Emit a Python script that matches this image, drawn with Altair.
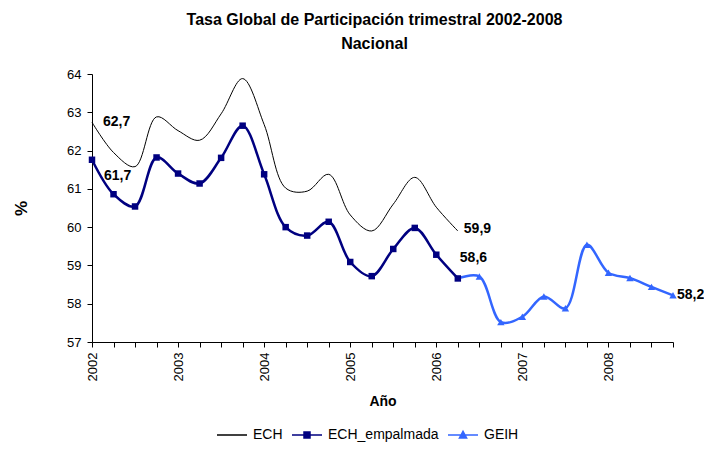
import altair as alt
import pandas as pd

# ---------------- data ----------------
quarters = [2002.0, 2002.25, 2002.5, 2002.75, 2003.0, 2003.25, 2003.5, 2003.75,
            2004.0, 2004.25, 2004.5, 2004.75, 2005.0, 2005.25, 2005.5, 2005.75,
            2006.0, 2006.25, 2006.5, 2006.75, 2007.0, 2007.25, 2007.5, 2007.75,
            2008.0, 2008.25, 2008.5, 2008.75]

ech_t = quarters[:18]
ech = [62.74, 61.95, 61.58, 62.88, 62.52, 62.27, 62.96, 63.88, 62.68, 61.02,
       60.94, 61.38, 60.32, 59.90, 60.60, 61.30, 60.52, 59.90]

emp_t = quarters[:18]
empalmada = [61.76, 60.86, 60.54, 61.82, 61.40, 61.14, 61.81, 62.65, 61.38, 60.00,
             59.78, 60.14, 59.09, 58.72, 59.43, 59.98, 59.28, 58.66]

geih_t = quarters[17:]
geih = [58.66, 58.71, 57.52, 57.66, 58.19, 57.88, 59.54, 58.81, 58.67, 58.44, 58.22]

series = ["ECH", "ECH_empalmada", "GEIH"]
series_colors = ["#000000", "#000080", "#3366FF"]
legend_paths = [
    "M-1,0L1,0",
    "M-1,0L1,0M-0.2,-0.2L0.2,-0.2L0.2,0.2L-0.2,0.2Z",
    "M-1,0L1,0M-0.24,0.2L0,-0.24L0.24,0.2Z",
]

labels = ["62,7", "61,7", "59,9", "58,6", "58,2"]
label_t = [2002.0, 2002.0, 2006.25, 2006.25, 2008.75]
label_v = [62.74, 61.76, 59.90, 58.66, 58.22]
label_dx = [11, 12, 6, 2, 4]
label_dy = [0, 16, -2, -20, 0]

FONT = "Liberation Sans"

df = pd.concat([
    pd.DataFrame({"t": ech_t, "v": ech, "serie": "ECH"}),
    pd.DataFrame({"t": emp_t, "v": empalmada, "serie": "ECH_empalmada"}),
    pd.DataFrame({"t": geih_t, "v": geih, "serie": "GEIH"}),
], ignore_index=True)

lab_df = pd.DataFrame({"t": label_t, "v": label_v, "label": labels})
leg_df = pd.DataFrame({"serie": series})

xscale = alt.Scale(domain=[2002, 2008.75], nice=False, zero=False)
yscale = alt.Scale(domain=[57, 64], nice=False, zero=False)

axis_common = dict(grid=False, domainColor="#000000", tickColor="#000000",
                   labelColor="#000000", titleColor="#000000", labelFont=FONT,
                   titleFont=FONT, labelFontSize=13, domainWidth=1, tickWidth=1,
                   labelOverlap=False)

x_enc = alt.X("t:Q", scale=xscale, axis=alt.Axis(
    title="Año", values=quarters,
    labelExpr="datum.value % 1 === 0 ? '' + datum.value : ''",
    labelAngle=-90, labelPadding=5, tickSize=5,
    titlePadding=14, titleFontSize=14, titleFontWeight="bold", **axis_common))
y_enc = alt.Y("v:Q", scale=yscale, axis=alt.Axis(
    title="%", values=list(range(57, 65)), tickSize=5, labelPadding=6,
    titlePadding=36, titleFontSize=17, titleFontWeight="bold", **axis_common))

base = alt.Chart(df).encode(x=x_enc, y=y_enc)

ech_line = base.transform_filter(alt.datum.serie == "ECH").mark_line(
    color="#000000", strokeWidth=1, interpolate="catmull-rom")
geih_line = base.transform_filter(alt.datum.serie == "GEIH").mark_line(
    color="#3366FF", strokeWidth=2.5, interpolate="catmull-rom")
emp_line = base.transform_filter(alt.datum.serie == "ECH_empalmada").mark_line(
    color="#000080", strokeWidth=2.5, interpolate="catmull-rom")
geih_pts = base.transform_filter(
    (alt.datum.serie == "GEIH") & (alt.datum.t > 2006.3)).mark_point(
    shape="triangle-up", filled=True, size=55, color="#3366FF", opacity=1)
emp_pts = base.transform_filter(alt.datum.serie == "ECH_empalmada").mark_point(
    shape="square", filled=True, size=42, color="#000080", opacity=1)

text_layers = []
for i in range(len(labels)):
    text_layers.append(
        alt.Chart(lab_df.iloc[[i]]).mark_text(
            align="left", baseline="middle", dx=label_dx[i], dy=label_dy[i],
            font=FONT, fontSize=14, fontWeight="bold", color="#000000"
        ).encode(x=x_enc, y=y_enc, text="label:N")
    )

leg = alt.Legend(title=None, orient="none", legendX=124, legendY=345,
                 direction="horizontal", symbolSize=900, labelFont=FONT,
                 labelFontSize=14, labelColor="#000000", labelOffset=5,
                 columnPadding=6, symbolStrokeWidth=1.5)

legend_layer = alt.Chart(leg_df).mark_point(filled=True, size=0, strokeWidth=1.5, opacity=1).encode(
    fill=alt.Fill("serie:N", scale=alt.Scale(domain=series, range=series_colors), legend=leg),
    stroke=alt.Stroke("serie:N", scale=alt.Scale(domain=series, range=series_colors), legend=leg),
    shape=alt.Shape("serie:N", scale=alt.Scale(domain=series, range=legend_paths), legend=leg),
)

chart = alt.layer(
    ech_line, geih_line, emp_line, geih_pts, emp_pts, *text_layers, legend_layer
).properties(
    width=581, height=268,
    autosize=alt.AutoSizeParams(type="none"),
    padding={"left": 84, "top": 66, "right": 31, "bottom": 100},
    background="#ffffff",
    title=alt.TitleParams(
        ["Tasa Global de Participación trimestral 2002-2008", "Nacional"],
        font=FONT, fontSize=16, fontWeight="bold", anchor="middle",
        frame="group", dx=-8, offset=16, lineHeight=24, color="#000000"),
).configure_view(stroke=None)

chart.save("out.html", embed_options={"renderer": "svg", "actions": False})
